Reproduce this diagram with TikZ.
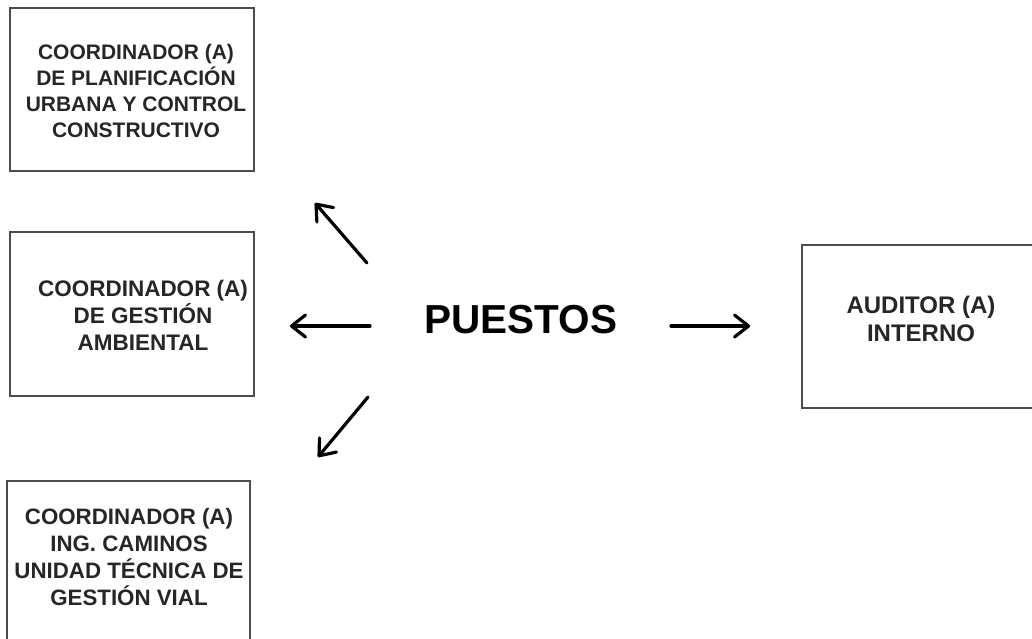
\documentclass[tikz,border=0pt]{standalone}
\usepackage{fontspec}
\setmainfont{Liberation Sans}
\usetikzlibrary{arrows.meta}

\begin{document}
\begin{tikzpicture}[x=1pt,y=-1pt]
  \tikzstyle{box}=[rectangle,draw=black!70,line width=1.8pt,inner sep=0pt]
  \tikzstyle{boxtext}=[align=center,text=black!85,inner sep=0pt]
  \tikzstyle{arr}=[line width=3.2pt,line cap=round,-{Straight Barb[length=14pt,width=22pt,round]}]
  \clip (0,0) rectangle (1032,638);
  % cajas
  \node[box,minimum width=244pt,minimum height=163pt] (planif) at (132,89.5) {};
  \node[box,minimum width=244pt,minimum height=164pt] (amb) at (132,314) {};
  \node[box,minimum width=243pt,minimum height=163pt] (vial) at (128.5,562.5) {};
  \node[box,minimum width=238pt,minimum height=163pt] (aud) at (921,326.5) {};
  % textos
  \node[boxtext,font=\bfseries\fontsize{21}{26}\selectfont] (planif-t) at (136,91)
    {COORDINADOR (A)\\DE PLANIFICACIÓN\\URBANA Y CONTROL\\CONSTRUCTIVO};
  \node[boxtext,font=\bfseries\fontsize{22.5}{27}\selectfont] (amb-t) at (143,315)
    {COORDINADOR (A)\\DE GESTIÓN\\AMBIENTAL};
  \node[boxtext,font=\bfseries\fontsize{22.3}{27}\selectfont] (vial-t) at (129,557.5)
    {COORDINADOR (A)\\ING. CAMINOS\\UNIDAD TÉCNICA DE\\GESTIÓN VIAL};
  \node[boxtext,font=\bfseries\fontsize{24}{28}\selectfont] (aud-t) at (921,319)
    {AUDITOR (A)\\INTERNO};
  \node[font=\bfseries\fontsize{40.5}{48}\selectfont] (puestos) at (521,320) {PUESTOS};
  % flechas
  \coordinate (ul-a) at (367,263);
  \coordinate (ul-b) at (315,203);
  \coordinate (dl-a) at (368,397);
  \coordinate (dl-b) at (318,457);
  \draw[arr] (ul-a) -- (ul-b);
  \draw[arr] (dl-a) -- (dl-b);
  \draw[arr,shorten <=51pt,shorten >=35pt] ([yshift=-6pt]puestos.west) -- ([yshift=-6pt]puestos.west -| amb.east);
  \draw[arr,shorten <=50pt,shorten >=51pt] ([yshift=-6pt]puestos.east) -- ([yshift=-6pt]puestos.east -| aud.west);
\end{tikzpicture}
\end{document}
